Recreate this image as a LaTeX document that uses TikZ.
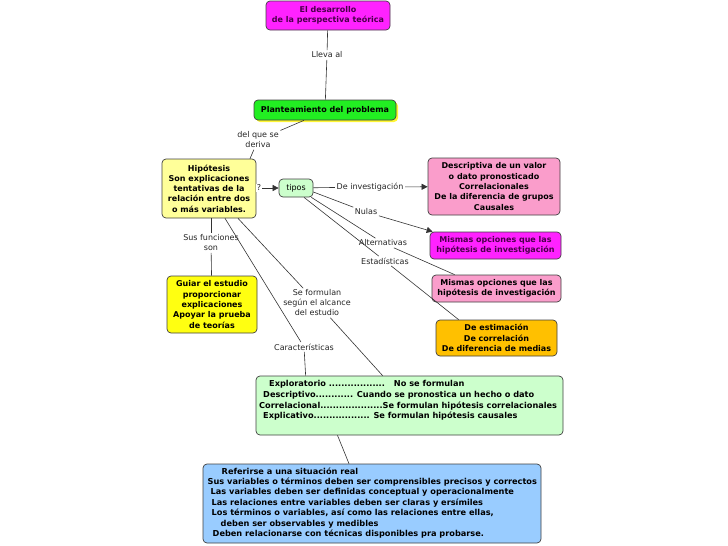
\documentclass[tikz,border=0pt]{standalone}
\usepackage{fontspec}
\setmainfont{DejaVu Sans}
\usetikzlibrary{calc,arrows.meta,shadows}
\definecolor{cmag}{HTML}{FF22FF}
\definecolor{cmagtxt}{HTML}{4A004A}
\definecolor{cgreen}{HTML}{22EE22}
\definecolor{cpaley}{HTML}{FFFF99}
\definecolor{cpaleg}{HTML}{CCFFCC}
\definecolor{cpink}{HTML}{FA9DCB}
\definecolor{corange}{HTML}{FFC000}
\definecolor{cyellow}{HTML}{FFFF11}
\definecolor{cblue}{HTML}{99CCFF}
\definecolor{cline}{HTML}{333333}
\tikzset{
  box/.style={draw=black!75, line width=0.7pt, rounded corners=4pt, align=center,
    font=\fontsize{8}{10.3}\selectfont\bfseries, inner sep=2pt},
  lbl/.style={font=\fontsize{8}{10}\selectfont, text=black!85, align=center, inner sep=1.5pt, fill=white},
  con/.style={draw=cline, line width=0.6pt},
  arr/.style={con, -{Triangle[length=6pt,width=6pt]}},
}
\begin{document}
\begin{tikzpicture}[x=1pt,y=-1pt]
\useasboundingbox (0,0) rectangle (728,546);
% nodes
\node[box, fill=cmag, text=cmagtxt, minimum width=124pt, minimum height=29pt] (top) at (328,15.5) {El desarrollo\\de la perspectiva teórica};
\node[box, fill=cgreen, minimum width=142pt, minimum height=20pt, drop shadow={shadow xshift=2pt, shadow yshift=-2pt, fill=yellow, opacity=0.8}] (plan) at (325,110) {Planteamiento del problema};
\node[box, fill=cpaley, minimum width=94pt, minimum height=59pt] (hip) at (209,188.5) {Hipótesis\\Son explicaciones\\tentativas de la\\relación entre dos\\o más variables.};
\node[box, fill=cpaleg, font=\fontsize{8}{10}\selectfont, minimum width=34pt, minimum height=18pt] (tipos) at (296,188) {tipos};
\node[box, fill=cpink, minimum width=132pt, minimum height=57pt] (pink1) at (494,186.5) {Descriptiva de un valor\\o dato pronosticado\\Correlacionales\\De la diferencia de grupos\\Causales};
\node[box, fill=cmag, text=cmagtxt, minimum width=131pt, minimum height=27pt] (mag2) at (495.5,245.5) {Mismas opciones que las\\hipótesis de investigación};
\node[box, fill=cpink, minimum width=129pt, minimum height=27pt] (pink3) at (496.5,288.5) {Mismas opciones que las\\hipótesis de investigación};
\node[box, fill=corange, minimum width=121pt, minimum height=36pt] (orange) at (496.5,338) {De estimación\\De correlación\\De diferencia de medias};
\node[box, fill=cyellow, minimum width=90pt, minimum height=57pt] (yel) at (212,304.5) {Guiar el estudio\\proporcionar\\explicaciones\\Apoyar la prueba\\de teorías};
\node[box, fill=cpaleg, minimum width=307pt, minimum height=59pt] (alc) at (409.5,405.5) {};
\node[anchor=north west, align=left, inner sep=0pt, font=\fontsize{8.2}{10.6}\selectfont\bfseries] at (259,380.5)
 {\hspace{10pt}Exploratorio ..................\hspace{9pt}No se formulan\\
  \hspace{4pt}Descriptivo............ Cuando se pronostica un hecho o dato\\
  Correlacional....................Se formulan hipótesis correlacionales\\
  \hspace{4pt}Explicativo.................. Se formulan hipótesis causales};
\node[box, fill=cblue, minimum width=338pt, minimum height=79pt] (car) at (372,503.5) {};
\node[anchor=north west, align=left, inner sep=0pt, font=\fontsize{8.2}{10.35}\selectfont\bfseries] at (207.5,467.5)
 {\hspace{14pt}Referirse a una situación real\\
  Sus variables o términos deben ser comprensibles precisos y correctos\\
  \hspace{3pt}Las variables deben ser definidas conceptual y operacionalmente\\
  \hspace{4pt}Las relaciones entre variables deben ser claras y ersímiles\\
  \hspace{4pt}Los términos o variables, así como las relaciones entre ellas,\\
  \hspace{13pt}deben ser observables y medibles\\
  \hspace{5pt}Deben relacionarse con técnicas disponibles pra probarse.};
% labels
\node[lbl] (llv) at (327,55) {Lleva al};
\node[lbl] (dqs) at (258,140) {del que se\\deriva};
\node[lbl, inner sep=1pt] (q) at (259,188) {?};
\node[lbl] (dinv) at (370,187) {De investigación};
\node[lbl] (nul) at (366,212) {Nulas};
\node[lbl] (alt) at (383,243) {Alternativas};
\node[lbl] (est) at (385,261) {Estadísticas};
\node[lbl] (sfs) at (211,243) {Sus funciones\\son};
\node[lbl] (sef) at (317,303) {Se formulan\\según el alcance\\del estudio};
\node[lbl] (cara) at (304,347) {Características};
% connectors
\draw[con] (top) -- (llv);
\draw[con] (llv) -- (plan);
\draw[con] ($(plan.south)+(-21,0)$) -- (dqs);
\draw[con] (dqs) -- ($(hip.north)+(41,0)$);
\draw[arr] (q) -- (tipos);
\draw[con] (tipos) -- (dinv);
\draw[arr] (dinv) -- (pink1);
\draw[con] ($(tipos.east)+(0,4)$) -- (nul);
\draw[arr] (nul) -- ($(mag2.north west)+(3,0)$);
\draw[con] ($(tipos.south east)+(-2,0)$) -- (alt);
\draw[con] (alt) -- ($(pink3.north west)+(23,0)$);
\draw[con] ($(tipos.south)+(8,0)$) -- (est);
\draw[con] (est) -- ($(orange.north west)+(23,0)$);
\draw[con] ($(hip.south)+(2,0)$) -- (sfs);
\draw[con] (sfs) -- (yel);
\draw[con] ($(hip.south)+(16,0)$) -- (cara);
\draw[con] (cara) -- ($(alc.north west)+(50,0)$);
\draw[con] ($(hip.south)+(29,0)$) -- (sef);
\draw[con] (sef) -- ($(alc.north west)+(127,0)$);
\draw[con] ($(alc.south)+(-72,0)$) -- ($(car.north)+(-23,0)$);
\end{tikzpicture}
\end{document}
